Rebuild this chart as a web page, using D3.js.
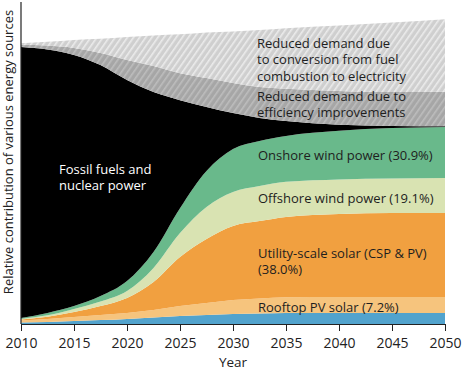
<!DOCTYPE html>
<html>
<head>
<meta charset="utf-8">
<script src="https://cdn.jsdelivr.net/npm/d3@7"></script>
<style>
  html, body { margin: 0; padding: 0; background: #ffffff; }
  svg { display: block; font-family: "Open Sans", "Noto Sans", sans-serif; }
</style>
</head>
<body>
<svg id="chart" width="464" height="372"></svg>
<script>
// ---- data (relative contribution, stacked bottom to top) ----
const years      = [2010, 2012.5, 2015, 2017.5, 2020, 2022.5, 2025, 2027.5, 2030, 2032.5, 2035, 2040, 2045, 2050];
const other      = [0.5, 0.7, 1.0, 1.3, 1.7, 2.2, 2.7, 3.0, 3.3, 3.5, 3.7, 3.7, 3.7, 3.7];
const rooftop    = [0.7, 1.0, 1.3, 1.7, 2.0, 2.5, 3.3, 4.0, 4.7, 5.0, 5.2, 5.3, 5.3, 5.3];
const utility    = [0.3, 0.7, 1.7, 3.0, 5.0, 9.3, 16.3, 21.3, 24.7, 25.8, 26.8, 27.7, 28.0, 28.0];
const offshore   = [0.2, 0.5, 1.0, 1.5, 2.3, 4.7, 8.0, 10.7, 11.3, 11.7, 11.7, 11.5, 11.5, 11.7];
const onshore    = [0.3, 0.8, 1.0, 1.8, 3.3, 5.3, 8.3, 12.0, 14.3, 15.0, 15.3, 16.2, 16.8, 17.0];
const fossil     = [90.3, 87.8, 83.7, 77.0, 67.0, 53.3, 36.0, 21.3, 12.0, 7.7, 5.0, 2.0, 0.7, 0.2];
const efficiency = [0.8, 1.3, 2.3, 4.0, 6.7, 8.7, 9.0, 9.7, 10.0, 10.3, 10.7, 11.3, 11.3, 11.5];
const conversion = [0.5, 1.3, 2.7, 4.8, 7.7, 10.2, 13.0, 15.2, 17.2, 19.0, 20.2, 21.8, 23.2, 24.2];
const xTicks     = [2010, 2015, 2020, 2025, 2030, 2035, 2040, 2045, 2050];

const seriesKeys = ["other", "rooftop", "utility", "offshore", "onshore", "fossil", "efficiency", "conversion"];
const seriesData = { other, rooftop, utility, offshore, onshore, fossil, efficiency, conversion };
const fills = {
  other: "#52a3cd",
  rooftop: "#f6c47d",
  utility: "#f1a040",
  offshore: "#d9e3b2",
  onshore: "#69b98b",
  fossil: "#000000",
  efficiency: "url(#hatchDark)",
  conversion: "url(#hatchLight)"
};

const rows = years.map((yr, i) => {
  const r = { year: yr };
  seriesKeys.forEach(k => r[k] = seriesData[k][i]);
  return r;
});

const svg = d3.select("#chart");

// hatch patterns
const defs = svg.append("defs");
function hatch(id, base, stripe) {
  const p = defs.append("pattern")
    .attr("id", id)
    .attr("patternUnits", "userSpaceOnUse")
    .attr("width", 5).attr("height", 5)
    .attr("patternTransform", "rotate(35)");
  p.append("rect").attr("width", 5).attr("height", 5).attr("fill", base);
  p.append("rect").attr("x", 0).attr("width", 1.6).attr("height", 5).attr("fill", stripe);
}
hatch("hatchLight", "#cfcfcf", "#ebebeb");
hatch("hatchDark", "#a6a6a6", "#bdbdbd");

const x = d3.scaleLinear().domain([2010, 2050]).range([21, 445]);
const y = d3.scaleLinear().domain([0, 100]).range([324, 24]);

const stack = d3.stack().keys(seriesKeys);
const layers = stack(rows);

const area = d3.area()
  .x(d => x(d.data.year))
  .y0(d => y(d[0]))
  .y1(d => y(d[1]))
  .curve(d3.curveMonotoneX);

svg.append("g").selectAll("path")
  .data(layers)
  .join("path")
  .attr("d", area)
  .attr("fill", d => fills[d.key]);

// axes
const xAxis = d3.axisBottom(x)
  .tickValues(xTicks)
  .tickFormat(d3.format("d"))
  .tickSize(7)
  .tickSizeOuter(0)
  .tickPadding(7);

const gx = svg.append("g").attr("transform", "translate(0,324)").call(xAxis);
gx.select(".domain").attr("stroke", "#222").attr("stroke-width", 1.2);
gx.selectAll(".tick line").attr("stroke", "#222").attr("stroke-width", 1);
gx.selectAll(".tick text")
  .attr("fill", "#222")
  .style("font-size", "14px")
  .style("font-family", "\"Open Sans\", sans-serif");

svg.append("line")
  .attr("x1", x(2010)).attr("x2", x(2010))
  .attr("y1", 2).attr("y2", 324)
  .attr("stroke", "#222").attr("stroke-width", 1.2);

svg.append("text")
  .attr("x", x(2030)).attr("y", 367)
  .attr("text-anchor", "middle")
  .attr("fill", "#222")
  .style("font-size", "13.5px")
  .text("Year");

svg.append("text")
  .attr("transform", "translate(13,152) rotate(-90)")
  .attr("text-anchor", "middle")
  .attr("fill", "#222")
  .style("font-size", "13px")
  .text("Relative contribution of various energy sources");

// labels
function label(lines, lx, ly, lh, color) {
  const t = svg.append("text").attr("fill", color).style("font-size", "13px");
  lines.forEach((s, i) => {
    t.append("tspan").attr("x", lx).attr("y", ly + i * lh).text(s);
  });
}
label(["Reduced demand due", "to conversion from fuel", "combustion to electricity"], 257, 48, 16.3, "#1e1e1e");
label(["Reduced demand due to", "efficiency improvements"], 257, 101, 16.3, "#1e1e1e");
label(["Onshore wind power (30.9%)"], 258, 159.5, 15, "#1e1e1e");
label(["Offshore wind power (19.1%)"], 258, 202.5, 15, "#1e1e1e");
label(["Utility-scale solar (CSP & PV)", "(38.0%)"], 258, 257.5, 16.3, "#1e1e1e");
label(["Rooftop PV solar (7.2%)"], 258, 311.5, 15, "#1e1e1e");
label(["Fossil fuels and", "nuclear power"], 59, 173.5, 16.3, "#ffffff");
</script>
</body>
</html>
